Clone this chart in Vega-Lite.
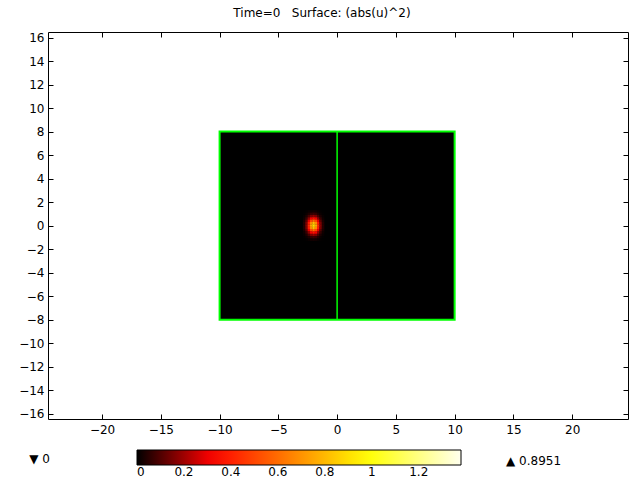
{
  "$schema": "https://vega.github.io/schema/vega-lite/v6.json",
  "autosize": "none",
  "padding": {"left": 48, "top": 32, "right": 12, "bottom": 61},
  "width": 580,
  "height": 387,
  "background": "white",
  "title": {
    "text": "Time=0\u00a0\u00a0\u00a0Surface: (abs(u)^2)",
    "font": "DejaVu Sans",
    "fontSize": 12,
    "fontWeight": "normal",
    "color": "black",
    "anchor": "middle",
    "frame": "group",
    "baseline": "alphabetic",
    "offset": 3,
    "dx": -16
  },
  "config": {
    "view": {"stroke": null},
    "axis": {
      "labelFont": "DejaVu Sans",
      "labelFontSize": 12,
      "labelColor": "black",
      "domainColor": "black",
      "domainWidth": 1,
      "tickColor": "black",
      "tickSize": -5,
      "grid": false,
      "title": null,
      "labelFlush": false,
      "labelOverlap": false
    },
    "legend": {
      "labelFont": "DejaVu Sans",
      "labelFontSize": 12,
      "labelColor": "black"
    }
  },
  "datasets": {
    "domain": [{"x0": -10, "x1": 10, "y0": -8, "y1": 8}],
    "split": [{"x": 0, "y0": -8, "y1": 8}],
    "markers": [
      {"label": "\u25bc 0", "x": -26.2, "y": -19.85},
      {"label": "\u25b2 0.8951", "x": 14.37, "y": -20.0}
    ],
    "cells": [
      {"x":-2.8,"y":1.2,"v":0.001},{"x":-2.6,"y":1.2,"v":0.005},{"x":-2.4,"y":1.2,"v":0.012},{"x":-2.2,"y":1.2,"v":0.021},{"x":-2.0,"y":1.2,"v":0.026},{"x":-1.8,"y":1.2,"v":0.021},{"x":-1.6,"y":1.2,"v":0.012},{"x":-1.4,"y":1.2,"v":0.005},{"x":-1.2,"y":1.2,"v":0.001},
      {"x":-2.8,"y":1.0,"v":0.004},{"x":-2.6,"y":1.0,"v":0.015},{"x":-2.4,"y":1.0,"v":0.036},{"x":-2.2,"y":1.0,"v":0.063},{"x":-2.0,"y":1.0,"v":0.076},{"x":-1.8,"y":1.0,"v":0.063},{"x":-1.6,"y":1.0,"v":0.036},{"x":-1.4,"y":1.0,"v":0.015},{"x":-1.2,"y":1.0,"v":0.004},
      {"x":-2.8,"y":0.8,"v":0.010},{"x":-2.6,"y":0.8,"v":0.035},{"x":-2.4,"y":0.8,"v":0.088},{"x":-2.2,"y":0.8,"v":0.153},{"x":-2.0,"y":0.8,"v":0.184},{"x":-1.8,"y":0.8,"v":0.153},{"x":-1.6,"y":0.8,"v":0.088},{"x":-1.4,"y":0.8,"v":0.035},{"x":-1.2,"y":0.8,"v":0.010},
      {"x":-2.8,"y":0.6,"v":0.019},{"x":-2.6,"y":0.6,"v":0.070},{"x":-2.4,"y":0.6,"v":0.176},{"x":-2.2,"y":0.6,"v":0.306},{"x":-2.0,"y":0.6,"v":0.368},{"x":-1.8,"y":0.6,"v":0.306},{"x":-1.6,"y":0.6,"v":0.176},{"x":-1.4,"y":0.6,"v":0.070},{"x":-1.2,"y":0.6,"v":0.019},
      {"x":-2.8,"y":0.4,"v":0.032},{"x":-2.6,"y":0.4,"v":0.115},{"x":-2.4,"y":0.4,"v":0.289},{"x":-2.2,"y":0.4,"v":0.502},{"x":-2.0,"y":0.4,"v":0.603},{"x":-1.8,"y":0.4,"v":0.502},{"x":-1.6,"y":0.4,"v":0.289},{"x":-1.4,"y":0.4,"v":0.115},{"x":-1.2,"y":0.4,"v":0.032},
      {"x":-2.8,"y":0.2,"v":0.043},{"x":-2.6,"y":0.2,"v":0.155},{"x":-2.4,"y":0.2,"v":0.389},{"x":-2.2,"y":0.2,"v":0.675},{"x":-2.0,"y":0.2,"v":0.811},{"x":-1.8,"y":0.2,"v":0.675},{"x":-1.6,"y":0.2,"v":0.389},{"x":-1.4,"y":0.2,"v":0.155},{"x":-1.2,"y":0.2,"v":0.043},
      {"x":-2.8,"y":0.0,"v":0.047},{"x":-2.6,"y":0.0,"v":0.171},{"x":-2.4,"y":0.0,"v":0.429},{"x":-2.2,"y":0.0,"v":0.745},{"x":-2.0,"y":0.0,"v":0.8951},{"x":-1.8,"y":0.0,"v":0.745},{"x":-1.6,"y":0.0,"v":0.429},{"x":-1.4,"y":0.0,"v":0.171},{"x":-1.2,"y":0.0,"v":0.047},
      {"x":-2.8,"y":-0.2,"v":0.043},{"x":-2.6,"y":-0.2,"v":0.155},{"x":-2.4,"y":-0.2,"v":0.389},{"x":-2.2,"y":-0.2,"v":0.675},{"x":-2.0,"y":-0.2,"v":0.811},{"x":-1.8,"y":-0.2,"v":0.675},{"x":-1.6,"y":-0.2,"v":0.389},{"x":-1.4,"y":-0.2,"v":0.155},{"x":-1.2,"y":-0.2,"v":0.043},
      {"x":-2.8,"y":-0.4,"v":0.032},{"x":-2.6,"y":-0.4,"v":0.115},{"x":-2.4,"y":-0.4,"v":0.289},{"x":-2.2,"y":-0.4,"v":0.502},{"x":-2.0,"y":-0.4,"v":0.603},{"x":-1.8,"y":-0.4,"v":0.502},{"x":-1.6,"y":-0.4,"v":0.289},{"x":-1.4,"y":-0.4,"v":0.115},{"x":-1.2,"y":-0.4,"v":0.032},
      {"x":-2.8,"y":-0.6,"v":0.019},{"x":-2.6,"y":-0.6,"v":0.070},{"x":-2.4,"y":-0.6,"v":0.176},{"x":-2.2,"y":-0.6,"v":0.306},{"x":-2.0,"y":-0.6,"v":0.368},{"x":-1.8,"y":-0.6,"v":0.306},{"x":-1.6,"y":-0.6,"v":0.176},{"x":-1.4,"y":-0.6,"v":0.070},{"x":-1.2,"y":-0.6,"v":0.019},
      {"x":-2.8,"y":-0.8,"v":0.010},{"x":-2.6,"y":-0.8,"v":0.035},{"x":-2.4,"y":-0.8,"v":0.088},{"x":-2.2,"y":-0.8,"v":0.153},{"x":-2.0,"y":-0.8,"v":0.184},{"x":-1.8,"y":-0.8,"v":0.153},{"x":-1.6,"y":-0.8,"v":0.088},{"x":-1.4,"y":-0.8,"v":0.035},{"x":-1.2,"y":-0.8,"v":0.010},
      {"x":-2.8,"y":-1.0,"v":0.004},{"x":-2.6,"y":-1.0,"v":0.015},{"x":-2.4,"y":-1.0,"v":0.036},{"x":-2.2,"y":-1.0,"v":0.063},{"x":-2.0,"y":-1.0,"v":0.076},{"x":-1.8,"y":-1.0,"v":0.063},{"x":-1.6,"y":-1.0,"v":0.036},{"x":-1.4,"y":-1.0,"v":0.015},{"x":-1.2,"y":-1.0,"v":0.004},
      {"x":-2.8,"y":-1.2,"v":0.001},{"x":-2.6,"y":-1.2,"v":0.005},{"x":-2.4,"y":-1.2,"v":0.012},{"x":-2.2,"y":-1.2,"v":0.021},{"x":-2.0,"y":-1.2,"v":0.026},{"x":-1.8,"y":-1.2,"v":0.021},{"x":-1.6,"y":-1.2,"v":0.012},{"x":-1.4,"y":-1.2,"v":0.005},{"x":-1.2,"y":-1.2,"v":0.001}
    ]
  },
  "resolve": {"axis": {"x": "independent", "y": "independent"}},
  "layer": [
    {
      "data": {"name": "domain"},
      "mark": {"type": "rect", "fill": "black", "stroke": "#00ff00", "strokeWidth": 2},
      "encoding": {
        "x": {"field": "x0", "type": "quantitative", "scale": {"domain": [-24.6, 24.75], "nice": false, "zero": false},
              "axis": {"orient": "bottom", "values": [-20, -15, -10, -5, 0, 5, 10, 15, 20], "labelPadding": 10}},
        "x2": {"field": "x1"},
        "y": {"field": "y0", "type": "quantitative", "scale": {"domain": [-16.45, 16.47], "nice": false, "zero": false},
              "axis": {"orient": "left", "values": [-16, -14, -12, -10, -8, -6, -4, -2, 0, 2, 4, 6, 8, 10, 12, 14, 16], "labelPadding": 9}},
        "y2": {"field": "y1"}
      }
    },
    {
      "data": {"name": "cells"},
      "mark": {"type": "rect", "width": 2.6, "height": 2.6},
      "encoding": {
        "x": {"field": "x", "type": "quantitative",
              "axis": {"orient": "top", "values": [-20, -15, -10, -5, 0, 5, 10, 15, 20], "labels": false}},
        "y": {"field": "y", "type": "quantitative",
              "axis": {"orient": "right", "values": [-16, -14, -12, -10, -8, -6, -4, -2, 0, 2, 4, 6, 8, 10, 12, 14, 16], "labels": false}},
        "color": {
          "field": "v", "type": "quantitative",
          "scale": {"domain": [0, 0.32, 0.98, 1.38], "range": ["#000000", "#ff0000", "#ffff00", "#ffffee"], "interpolate": "rgb"},
          "legend": {
            "orient": "none",
            "legendX": 89,
            "legendY": 418,
            "direction": "horizontal",
            "title": null,
            "padding": 0,
            "gradientLength": 324,
            "gradientThickness": 15,
            "gradientStrokeColor": "black",
            "gradientStrokeWidth": 1,
            "values": [0, 0.2, 0.4, 0.6, 0.8, 1, 1.2],
            "format": ".1~f",
            "labelOffset": 2,
            "labelOverlap": false
          }
        }
      }
    },
    {
      "data": {"name": "split"},
      "mark": {"type": "rule", "color": "#00ff00", "strokeWidth": 1.5},
      "encoding": {
        "x": {"field": "x", "type": "quantitative", "axis": null},
        "y": {"field": "y0", "type": "quantitative", "axis": null},
        "y2": {"field": "y1"}
      }
    },
    {
      "data": {"name": "markers"},
      "mark": {"type": "text", "align": "left", "baseline": "middle", "font": "DejaVu Sans", "fontSize": 12, "color": "black"},
      "encoding": {
        "x": {"field": "x", "type": "quantitative", "axis": null},
        "y": {"field": "y", "type": "quantitative", "axis": null},
        "text": {"field": "label"}
      }
    }
  ]
}
